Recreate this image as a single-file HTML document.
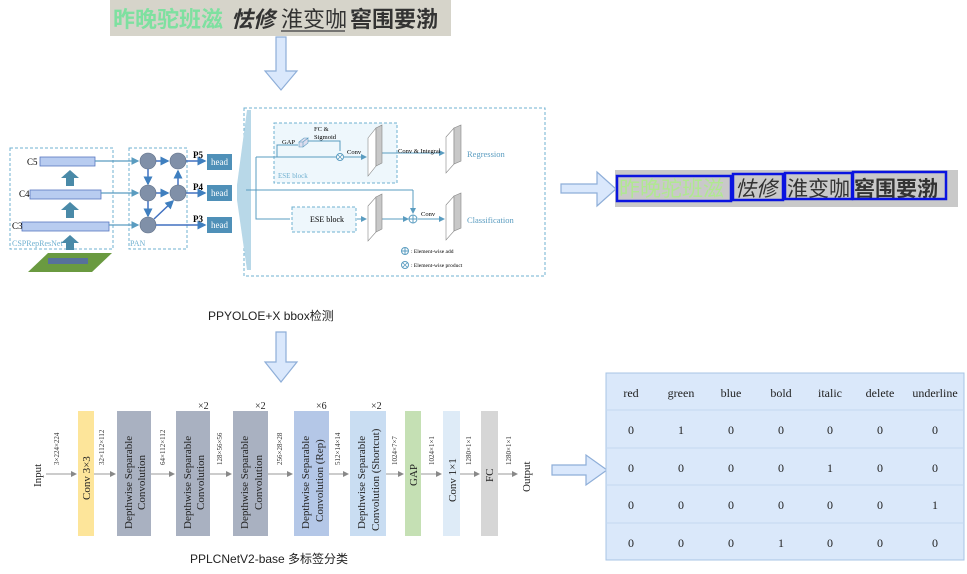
<!DOCTYPE html>
<html><head><meta charset="utf-8"><style>
html,body{margin:0;padding:0;background:#fff;width:967px;height:574px;overflow:hidden}
svg{display:block}
text{font-family:"Liberation Serif","Noto Serif CJK SC",serif}
.cjk{font-family:"Liberation Sans","Noto Sans CJK SC",sans-serif}
</style></head><body>
<svg width="967" height="574" viewBox="0 0 967 574" xmlns="http://www.w3.org/2000/svg">
<defs>
<marker id="ab" markerWidth="6" markerHeight="6" refX="5" refY="3" orient="auto"><path d="M0,0 L6,3 L0,6z" fill="#3f7fbf"/></marker>
<marker id="ag" markerWidth="6" markerHeight="6" refX="5" refY="3" orient="auto"><path d="M0,0 L6,3 L0,6z" fill="#888"/></marker>
<marker id="at" markerWidth="6" markerHeight="6" refX="5" refY="3" orient="auto"><path d="M0,0 L6,3 L0,6z" fill="#5a9cc0"/></marker>
</defs>

<!-- top text image -->
<rect x="110" y="0" width="341" height="36" fill="#d6d4ca"/>
<text x="113" y="27" class="cjk" font-size="22" fill="#7ee0a0" font-weight="bold">昨晚驼班滋</text>
<text x="231" y="27" class="cjk" font-size="22" fill="#333" font-style="italic" font-weight="bold">怯修</text>
<text x="281" y="27" class="cjk" font-size="22" fill="#333">淮变咖</text>
<line x1="281" y1="31" x2="345" y2="31" stroke="#555" stroke-width="1.5"/>
<text x="350" y="27" class="cjk" font-size="22" fill="#333" font-weight="bold">窖围要渤</text>

<!-- down arrows -->
<path d="M276,37 H286 V71 H297 L281,90 L265,71 H276Z" fill="#dae8fc" stroke="#8eaed8" stroke-width="1.2"/>
<path d="M276,332 H286 V362 H297 L281,382 L265,362 H276Z" fill="#dae8fc" stroke="#8eaed8" stroke-width="1.2"/>
<!-- right arrows -->
<path d="M561,184 H597 V172 L616,189 L597,206 V193 H561Z" fill="#dae8fc" stroke="#8eaed8" stroke-width="1.2"/>
<path d="M552,465 H586 V455 L607,470 L586,485 V475 H552Z" fill="#dae8fc" stroke="#8eaed8" stroke-width="1.2"/>

<!-- right text image -->
<rect x="615" y="170" width="343" height="37" fill="#c9c9c9"/>
<text x="619" y="196" class="cjk" font-size="21" fill="#b0e890">昨晚驼班滋</text>
<text x="735" y="196" class="cjk" font-size="21" fill="#333" font-style="italic">怯修</text>
<text x="787" y="196" class="cjk" font-size="21" fill="#333">淮变咖</text>
<text x="854" y="196" class="cjk" font-size="21" fill="#333" font-weight="bold">窖围要渤</text>
<g fill="none" stroke="#0a14e0" stroke-width="2.5">
<rect x="617" y="176" width="114" height="25"/>
<rect x="733" y="174" width="50" height="26"/>
<rect x="785" y="173" width="67" height="26"/>
<rect x="853" y="172" width="93" height="27"/>
</g>

<!-- detection diagram -->
<g fill="none" stroke="#6fb0d0" stroke-dasharray="3,2" stroke-width="1">
<rect x="10" y="148" width="103" height="101"/>
<rect x="129" y="148" width="58" height="101"/>
<rect x="244" y="108" width="301" height="168"/>
</g>
<text x="12" y="246" font-size="8" fill="#6fb0d0">CSPRepResNet</text>
<text x="130" y="246" font-size="8" fill="#6fb0d0">PAN</text>
<g fill="#b8ccf0" stroke="#5878c0" stroke-width="0.8">
<rect x="40" y="157" width="55" height="9"/>
<rect x="30" y="190" width="71" height="9"/>
<rect x="22" y="222" width="87" height="9"/>
</g>
<text x="27" y="165" font-size="9">C5</text>
<text x="19" y="197" font-size="9">C4</text>
<text x="12" y="229" font-size="9">C3</text>
<g fill="#4a8aa8">
<path d="M66,186 V178 H61 L70,170 L79,178 H74 V186Z"/>
<path d="M66,218 V210 H61 L70,202 L79,210 H74 V218Z"/>
<path d="M66,250 V243 H61 L70,235 L79,243 H74 V250Z"/>
</g>
<path d="M28,272 L48,253 L112,253 L92,272Z" fill="#6a9a40"/>
<rect x="48" y="258" width="40" height="6" fill="#5060c0" opacity="0.7"/>
<g stroke="#5a9cc0" stroke-width="1.3" fill="none">
<line x1="95" y1="161" x2="138" y2="161" marker-end="url(#at)"/>
<line x1="101" y1="193" x2="138" y2="193" marker-end="url(#at)"/>
<line x1="109" y1="225" x2="138" y2="225" marker-end="url(#at)"/>
</g>
<g stroke="#4070c0" stroke-width="1.5" fill="none">
<line x1="156" y1="161" x2="168" y2="161" marker-end="url(#ab)"/>
<line x1="156" y1="193" x2="168" y2="193" marker-end="url(#ab)"/>
<line x1="148" y1="169" x2="148" y2="184" marker-end="url(#ab)"/>
<line x1="148" y1="201" x2="148" y2="216" marker-end="url(#ab)"/>
<line x1="178" y1="185" x2="178" y2="171" marker-end="url(#ab)"/>
<line x1="154" y1="219" x2="173" y2="201" marker-end="url(#ab)"/>
<line x1="186" y1="161" x2="205" y2="161" marker-end="url(#ab)"/>
<line x1="186" y1="193" x2="205" y2="193" marker-end="url(#ab)"/>
<line x1="156" y1="225" x2="205" y2="225" marker-end="url(#ab)"/>
</g>
<g fill="#8090a8" stroke="#607088" stroke-width="0.6">
<circle cx="148" cy="161" r="8"/><circle cx="178" cy="161" r="8"/>
<circle cx="148" cy="193" r="8"/><circle cx="178" cy="193" r="8"/>
<circle cx="148" cy="225" r="8"/>
</g>
<text x="193" y="158" font-size="9" font-weight="bold">P5</text>
<text x="193" y="190" font-size="9" font-weight="bold">P4</text>
<text x="193" y="222" font-size="9" font-weight="bold">P3</text>
<g fill="#4f90b8">
<rect x="207" y="154" width="25" height="16"/><rect x="207" y="185" width="25" height="16"/><rect x="207" y="217" width="25" height="16"/>
</g>
<g fill="#fff" font-size="9"><text x="211" y="165">head</text><text x="211" y="196">head</text><text x="211" y="228">head</text></g>
<path d="M237,185 L247,110 L251,110 L251,270 L247,270 L237,200Z" fill="#b8d8e8"/>

<rect x="274" y="123" width="123" height="60" fill="#eef7fc" stroke="#6fb0d0" stroke-dasharray="3,2"/>
<text x="278" y="178" font-size="7" fill="#6fb0d0">ESE block</text>
<rect x="292" y="207" width="64" height="25" fill="#eef7fc" stroke="#6fb0d0" stroke-dasharray="3,2"/>
<text x="310" y="222" font-size="8">ESE block</text>
<g stroke="#5a9cc0" stroke-width="1" fill="none">
<polyline points="277,157 277,145 298,145"/>
<polyline points="305,141 340,141 340,151"/>
<line x1="256" y1="157" x2="336" y2="157"/>
<line x1="344" y1="157" x2="366" y2="157" marker-end="url(#at)"/>
<polyline points="256,157 256,219 290,219"/>
<line x1="357" y1="219" x2="366" y2="219" marker-end="url(#at)"/>
<line x1="246" y1="190" x2="413" y2="190"/><line x1="413" y1="190" x2="413" y2="213" marker-end="url(#at)"/>
<line x1="382" y1="219" x2="408" y2="219" marker-end="url(#at)"/>
<line x1="418" y1="219" x2="444" y2="219" marker-end="url(#at)"/>
<line x1="382" y1="153" x2="444" y2="153" marker-end="url(#at)"/>
</g>
<path d="M299,142 l5,-4 h4 l-5,4z M299,142 h4 v5 h-4z M303,142 l5,-4 v5 l-5,4z" fill="#dde" stroke="#5a9cc0" stroke-width="0.6"/>
<circle cx="340" cy="157" r="3.5" fill="#fff" stroke="#5a9cc0"/><path d="M337.5,154.5 L342.5,159.5 M342.5,154.5 L337.5,159.5" stroke="#5a9cc0" stroke-width="0.8"/>
<circle cx="413" cy="219" r="4" fill="#fff" stroke="#5a9cc0"/><line x1="409" y1="219" x2="417" y2="219" stroke="#5a9cc0"/><line x1="413" y1="215" x2="413" y2="223" stroke="#5a9cc0"/>
<text x="282" y="144" font-size="6.5">GAP</text>
<text x="314" y="131" font-size="6.5">FC &amp;</text><text x="314" y="139" font-size="6.5">Sigmoid</text>
<text x="347" y="154" font-size="6.5">Conv</text>
<text x="398" y="153" font-size="6.5">Conv &amp; Integral</text>
<text x="421" y="216" font-size="6.5">Conv</text>
<text x="467" y="157" font-size="8.5" fill="#5a9cc0">Regression</text>
<text x="467" y="223" font-size="8.5" fill="#5a9cc0">Classification</text>
<g fill="#c8c8c8" stroke="#888" stroke-width="0.6">
<path d="M368,138 L376,128 V166 L368,176Z" fill="#fff"/><path d="M376,128 L382,125 V163 L376,166Z"/>
<path d="M368,206 L376,197 V232 L368,241Z" fill="#fff"/><path d="M376,197 L382,194 V229 L376,232Z"/>
<path d="M446,137 L454,128 V164 L446,173Z" fill="#fff"/><path d="M454,128 L461,125 V161 L454,164Z"/>
<path d="M446,205 L454,196 V231 L446,240Z" fill="#fff"/><path d="M454,196 L461,193 V228 L454,231Z"/>
</g>
<circle cx="405" cy="251" r="3.5" fill="#fff" stroke="#5a9cc0"/><line x1="401.5" y1="251" x2="408.5" y2="251" stroke="#5a9cc0"/><line x1="405" y1="247.5" x2="405" y2="254.5" stroke="#5a9cc0"/>
<text x="411" y="253" font-size="5.5">: Element-wise add</text>
<circle cx="405" cy="265" r="3.5" fill="#fff" stroke="#5a9cc0"/><path d="M402.5,262.5 L407.5,267.5 M407.5,262.5 L402.5,267.5" stroke="#5a9cc0" stroke-width="0.8"/>
<text x="411" y="267" font-size="5.5">: Element-wise product</text>

<text x="208" y="320" class="cjk" font-size="12" fill="#222">PPYOLOE+X  bbox检测</text>

<!-- classification network -->
<g stroke="#999" stroke-width="1" fill="none">
<line x1="46" y1="474" x2="76" y2="474" marker-end="url(#ag)"/>
<line x1="94" y1="474" x2="115" y2="474" marker-end="url(#ag)"/>
<line x1="151" y1="474" x2="174" y2="474" marker-end="url(#ag)"/>
<line x1="210" y1="474" x2="231" y2="474" marker-end="url(#ag)"/>
<line x1="268" y1="474" x2="292" y2="474" marker-end="url(#ag)"/>
<line x1="329" y1="474" x2="348" y2="474" marker-end="url(#ag)"/>
<line x1="386" y1="474" x2="403" y2="474" marker-end="url(#ag)"/>
<line x1="421" y1="474" x2="441" y2="474" marker-end="url(#ag)"/>
<line x1="460" y1="474" x2="479" y2="474" marker-end="url(#ag)"/>
<line x1="498" y1="474" x2="517" y2="474" marker-end="url(#ag)"/>
</g>
<rect x="78" y="411" width="16" height="125" fill="#fde59a"/>
<rect x="117" y="411" width="34" height="125" fill="#a9b1c1"/>
<rect x="176" y="411" width="34" height="125" fill="#a9b1c1"/>
<rect x="233" y="411" width="35" height="125" fill="#a9b1c1"/>
<rect x="294" y="411" width="35" height="125" fill="#b4c7e7"/>
<rect x="350" y="411" width="36" height="125" fill="#c9ddf2"/>
<rect x="405" y="411" width="16" height="125" fill="#c5e0b4"/>
<rect x="443" y="411" width="17" height="125" fill="#deebf7"/>
<rect x="481" y="411" width="17" height="125" fill="#d6d6d6"/>
<g font-size="11" fill="#222">
<text transform="translate(41,487) rotate(-90)">Input</text>
<text transform="translate(90,500) rotate(-90)">Conv 3×3</text>
<text transform="translate(132,529) rotate(-90)">Depthwise Separable</text>
<text transform="translate(145,510) rotate(-90)">Convolution</text>
<text transform="translate(191,529) rotate(-90)">Depthwise Separable</text>
<text transform="translate(204,510) rotate(-90)">Convolution</text>
<text transform="translate(248,529) rotate(-90)">Depthwise Separable</text>
<text transform="translate(262,510) rotate(-90)">Convolution</text>
<text transform="translate(309,529) rotate(-90)">Depthwise Separable</text>
<text transform="translate(323,522) rotate(-90)">Convolution (Rep)</text>
<text transform="translate(365,529) rotate(-90)">Depthwise Separable</text>
<text transform="translate(379,531) rotate(-90)">Convolution (Shortcut)</text>
<text transform="translate(417,486) rotate(-90)">GAP</text>
<text transform="translate(456,502) rotate(-90)">Conv 1×1</text>
<text transform="translate(493,482) rotate(-90)">FC</text>
<text transform="translate(530,492) rotate(-90)">Output</text>
</g>
<g font-size="7" fill="#333" font-family="Liberation Sans,sans-serif">
<text transform="translate(59,465) rotate(-90)">3×224×224</text>
<text transform="translate(104,465) rotate(-90)">32×112×112</text>
<text transform="translate(165,465) rotate(-90)">64×112×112</text>
<text transform="translate(222,465) rotate(-90)">128×56×56</text>
<text transform="translate(282,465) rotate(-90)">256×28×28</text>
<text transform="translate(340,465) rotate(-90)">512×14×14</text>
<text transform="translate(397,465) rotate(-90)">1024×7×7</text>
<text transform="translate(434,465) rotate(-90)">1024×1×1</text>
<text transform="translate(471,465) rotate(-90)">1280×1×1</text>
<text transform="translate(511,465) rotate(-90)">1280×1×1</text>
</g>
<g font-size="10" font-family="Liberation Sans,sans-serif" fill="#222">
<text x="198" y="409">×2</text><text x="255" y="409">×2</text><text x="316" y="409">×6</text><text x="371" y="409">×2</text>
</g>
<text x="190" y="563" class="cjk" font-size="12" fill="#222">PPLCNetV2-base  多标签分类</text>

<!-- table -->
<rect x="606" y="373" width="358" height="187" fill="#dae8fa" stroke="#a8c4e4"/>
<g stroke="#c4d8f0" stroke-width="1">
<line x1="606" y1="410" x2="964" y2="410"/><line x1="606" y1="448" x2="964" y2="448"/>
<line x1="606" y1="485" x2="964" y2="485"/><line x1="606" y1="523" x2="964" y2="523"/>
</g>
<g font-size="12" fill="#222" text-anchor="middle">
<text x="631" y="397">red</text><text x="681" y="397">green</text><text x="731" y="397">blue</text><text x="781" y="397">bold</text><text x="830" y="397">italic</text><text x="880" y="397">delete</text><text x="935" y="397">underline</text>
<text x="631" y="434">0</text><text x="681" y="434">1</text><text x="731" y="434">0</text><text x="781" y="434">0</text><text x="830" y="434">0</text><text x="880" y="434">0</text><text x="935" y="434">0</text>
<text x="631" y="472">0</text><text x="681" y="472">0</text><text x="731" y="472">0</text><text x="781" y="472">0</text><text x="830" y="472">1</text><text x="880" y="472">0</text><text x="935" y="472">0</text>
<text x="631" y="509">0</text><text x="681" y="509">0</text><text x="731" y="509">0</text><text x="781" y="509">0</text><text x="830" y="509">0</text><text x="880" y="509">0</text><text x="935" y="509">1</text>
<text x="631" y="547">0</text><text x="681" y="547">0</text><text x="731" y="547">0</text><text x="781" y="547">1</text><text x="830" y="547">0</text><text x="880" y="547">0</text><text x="935" y="547">0</text>
</g>
</svg>
</body></html>
